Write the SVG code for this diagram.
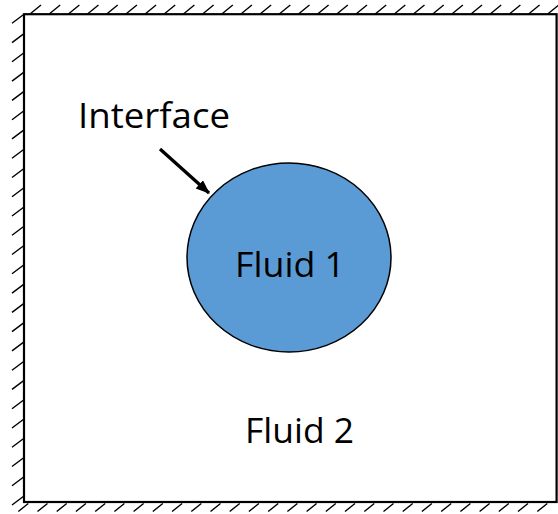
<svg xmlns="http://www.w3.org/2000/svg" width="558" height="514" viewBox="0 0 558 514">
  <defs>
    <style>
      .hatch { stroke: #000; stroke-width: 1.4; fill: none; }
      .lbl { font-family: "Open Sans", "Liberation Sans", sans-serif; font-size: 34px; fill: #000; }
      .box { fill: #fff; stroke: #000; stroke-width: 2.2; }
    </style>
    <marker id="arrow" markerUnits="userSpaceOnUse" markerWidth="16" markerHeight="12" refX="13" refY="5.5" orient="auto">
      <path d="M0,0 L14,5.5 L0,11 Z" fill="#000"/>
    </marker>
    <clipPath id="clip"><rect x="0" y="0" width="558" height="514"/></clipPath>
  </defs>
  <rect x="0" y="0" width="558" height="514" fill="#fff"/>
  <g id="hatching" clip-path="url(#clip)">
    <path class="hatch" d="M30,14 l11,-9 M49.2,14 l11,-9 M68.4,14 l11,-9 M87.5,14 l11,-9 M106.7,14 l11,-9 M125.9,14 l11,-9 M145.1,14 l11,-9 M164.2,14 l11,-9 M183.4,14 l11,-9 M202.6,14 l11,-9 M221.8,14 l11,-9 M240.9,14 l11,-9 M260.1,14 l11,-9 M279.3,14 l11,-9 M298.5,14 l11,-9 M317.6,14 l11,-9 M336.8,14 l11,-9 M356,14 l11,-9 M375.2,14 l11,-9 M394.3,14 l11,-9 M413.5,14 l11,-9 M432.7,14 l11,-9 M451.9,14 l11,-9 M471,14 l11,-9 M490.2,14 l11,-9 M509.4,14 l11,-9 M528.6,14 l11,-9 M547.7,14 l11,-9"/>
    <path class="hatch" d="M12,23.3 l12,-9 M12,42.6 l12,-9 M12,61.8 l12,-9 M12,81.1 l12,-9 M12,100.4 l12,-9 M12,119.7 l12,-9 M12,138.9 l12,-9 M12,158.2 l12,-9 M12,177.5 l12,-9 M12,196.7 l12,-9 M12,216 l12,-9 M12,235.3 l12,-9 M12,254.5 l12,-9 M12,273.8 l12,-9 M12,293.1 l12,-9 M12,312.4 l12,-9 M12,331.6 l12,-9 M12,350.9 l12,-9 M12,370.2 l12,-9 M12,389.4 l12,-9 M12,408.7 l12,-9 M12,428 l12,-9 M12,447.2 l12,-9 M12,466.5 l12,-9 M12,485.8 l12,-9 M12,505 l12,-9"/>
    <path class="hatch" d="M18.3,511.5 l10,-8 M37.5,511.5 l10,-8 M56.7,511.5 l10,-8 M75.9,511.5 l10,-8 M95.2,511.5 l10,-8 M114.4,511.5 l10,-8 M133.6,511.5 l10,-8 M152.8,511.5 l10,-8 M172.1,511.5 l10,-8 M191.3,511.5 l10,-8 M210.5,511.5 l10,-8 M229.7,511.5 l10,-8 M248.9,511.5 l10,-8 M268.2,511.5 l10,-8 M287.4,511.5 l10,-8 M306.6,511.5 l10,-8 M325.8,511.5 l10,-8 M345,511.5 l10,-8 M364.3,511.5 l10,-8 M383.5,511.5 l10,-8 M402.7,511.5 l10,-8 M421.9,511.5 l10,-8 M441.2,511.5 l10,-8 M460.4,511.5 l10,-8 M479.6,511.5 l10,-8 M498.8,511.5 l10,-8 M518,511.5 l10,-8 M537.3,511.5 l10,-8"/>
  </g>
  <g id="fluid2-domain">
    <rect class="box" x="24" y="14.2" width="532.6" height="487.8"/>
    <text class="lbl" x="245" y="443" textLength="109" lengthAdjust="spacingAndGlyphs">Fluid 2</text>
  </g>
  <g id="fluid1-bubble">
    <ellipse cx="289" cy="257.5" rx="102" ry="94.5" fill="#5B9BD5" stroke="#000" stroke-width="1.5"/>
    <text class="lbl" x="235" y="277" textLength="110" lengthAdjust="spacingAndGlyphs">Fluid 1</text>
  </g>
  <g id="interface-label">
    <text class="lbl" x="78" y="128" textLength="152" lengthAdjust="spacingAndGlyphs">Interface</text>
  </g>
  <g id="connectors">
    <line x1="160" y1="149" x2="209" y2="193" stroke="#000" stroke-width="3.3" marker-end="url(#arrow)"/>
  </g>
</svg>
